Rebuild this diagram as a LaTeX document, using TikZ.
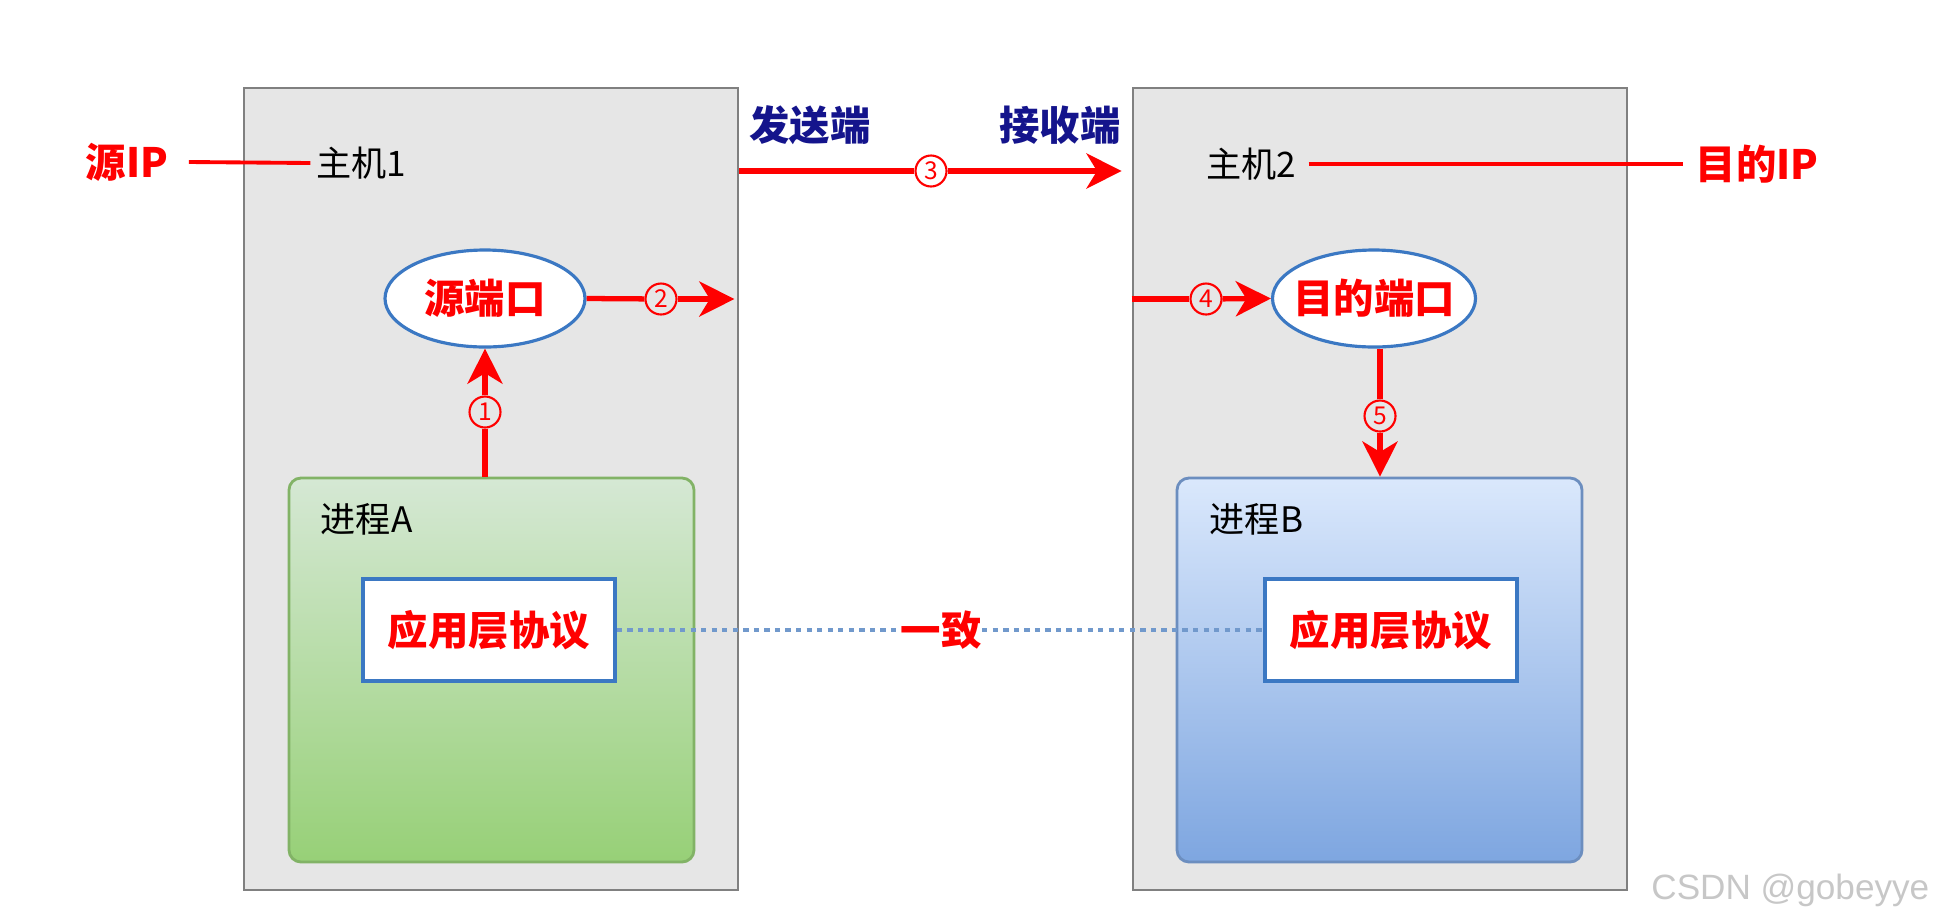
\documentclass[tikz,border=0pt]{standalone}
\usepackage{fontspec}
\setmainfont{Noto Sans CJK SC}
\newfontfamily\wmfont{Liberation Sans}
\usetikzlibrary{arrows.meta, shapes.geometric, positioning}
\definecolor{hostgray}{HTML}{E6E6E6}
\definecolor{hostline}{HTML}{808080}
\definecolor{navy}{HTML}{14148C}
\definecolor{portblue}{HTML}{3B78C3}
\definecolor{greentop}{HTML}{D5E8D4}
\definecolor{greenbot}{HTML}{97D077}
\definecolor{greenline}{HTML}{82B366}
\definecolor{bluetop}{HTML}{DAE8FC}
\definecolor{bluebot}{HTML}{7EA6E0}
\definecolor{blueline}{HTML}{6C8EBF}
\definecolor{dotblue}{HTML}{7199CC}
\tikzset{
	host/.style={draw=hostline, fill=hostgray, line width=0.8pt, inner sep=0pt, minimum width=4.94cm, minimum height=8.02cm},
	proc/.style={rounded corners=0.12cm, line width=0.8pt, inner sep=0pt, minimum width=4.05cm, minimum height=3.84cm},
	proto/.style={draw=portblue, fill=white, line width=1pt, inner sep=0pt, minimum width=2.52cm, minimum height=1.02cm, font=\fontsize{11.5}{13}\selectfont\bfseries, text=red},
	port/.style={ellipse, draw=portblue, fill=white, line width=0.9pt, inner sep=0pt, minimum width=2cm, minimum height=0.97cm, font=\fontsize{11.5}{13}\selectfont\bfseries, text=red},
	redlbl/.style={inner sep=0pt, font=\fontsize{11.5}{13}\selectfont\bfseries, text=red},
	navylbl/.style={inner sep=0pt, font=\fontsize{11.5}{13}\selectfont\bfseries, text=navy},
	plain/.style={inner sep=0pt, font=\fontsize{10}{12}\selectfont},
	numc/.style={circle, draw=red, line width=0.6pt, text=red, inner sep=0pt, minimum size=0.31cm, font=\fontsize{7}{8}\selectfont},
	flow/.style={draw=red, line width=1.5pt},
	flowarr/.style={flow, -{Stealth[length=10pt, width=10pt, inset=3pt]}}
}
\begin{document}
\begin{tikzpicture}[x=1cm, y=-1cm]
	\useasboundingbox (0,0) rectangle (19.35,9.23);

	% hosts and processes
	\node[host] (h1) at (4.91,4.89) {};
	\node[host] (h2) at (13.80,4.89) {};
	\node[proc, draw=greenline, top color=greentop, bottom color=greenbot] (pa) at (4.915,6.70) {};
	\node[proc, draw=blueline, top color=bluetop, bottom color=bluebot] (pb) at (13.795,6.70) {};
	\node[plain, anchor=west] (la) at (3.20,5.19) {进程A};
	\node[plain, anchor=west] (lb) at (12.09,5.19) {进程B};
	\node[proto] (ap) at (4.89,6.30) {应用层协议};
	\node[proto] (bp) at (13.91,6.30) {应用层协议};

	% addresses
	\node[redlbl] (sip) at (1.27,1.62) {源IP};
	\node[plain] (m1) at (3.61,1.63) {主机1};
	\node[plain] (m2) at (12.51,1.64) {主机2};
	\node[redlbl] (dip) at (17.57,1.64) {目的IP};
	\draw[red, line width=1.1pt] ([xshift=0.2cm]sip.east) -- ([xshift=-0.05cm]m1.west);
	\draw[red, line width=1.1pt] ([xshift=0.12cm]m2.east) -- ([xshift=-0.12cm]dip.west);
	\node[navylbl] (snd) at (8.10,1.25) {发送端};
	\node[navylbl] (rcv) at (10.60,1.25) {接收端};

	% ports
	\node[port] (sp) at (4.85,2.985) {\makebox[0pt]{源端口}};
	\node[port, minimum width=2.03cm] (dp) at (13.74,2.985) {\makebox[0pt]{目的端口}};

	% steps
	\node[numc] (c1) at (4.85,4.12) {1};
	\node[numc] (c2) at (6.61,2.99) {2};
	\node[numc] (c3) at (9.31,1.71) {3};
	\node[numc] (c4) at (12.06,2.99) {4};
	\node[numc] (c5) at (13.80,4.16) {5};
	\draw[flow] (pa.north -| c1) -- (c1);
	\draw[flowarr] (c1) -- (sp.south);
	\draw[flow] (sp.east) -- (c2);
	\draw[flowarr, shorten >=0.05cm] (c2) -- (h1.east |- c2);
	\draw[flow] (h1.east |- c3) -- (c3);
	\draw[flowarr, shorten >=0.1cm] (c3) -- (h2.west |- c3);
	\draw[flow] (h2.west |- c4) -- (c4);
	\draw[flowarr] (c4) -- (dp.west);
	\draw[flow] (dp.south -| c5) -- (c5);
	\draw[flowarr] (c5) -- (pb.north -| c5);

	% same protocol
	\node[redlbl] (eq) at (9.41,6.30) {一致};
	\draw[dotblue, line width=1.2pt, dash pattern=on 1.5pt off 1.5pt] (ap.east) -- (eq.west);
	\draw[dotblue, line width=1.2pt, dash pattern=on 1.5pt off 1.5pt] (eq.east) -- (bp.west);

	\node[anchor=east, inner sep=0pt, text=black!22, font=\wmfont\fontsize{10}{12}\selectfont] (wm) at (19.30,8.90) {CSDN @gobeyye};
\end{tikzpicture}
\end{document}
